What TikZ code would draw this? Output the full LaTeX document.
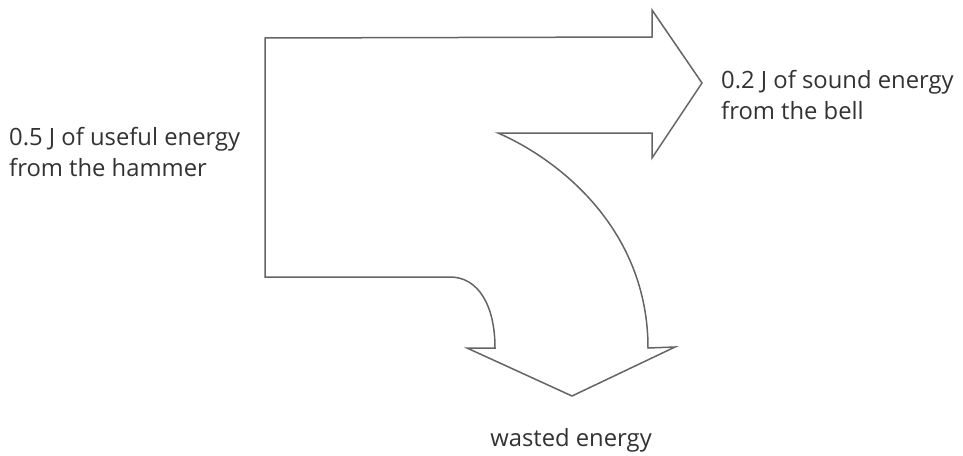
\documentclass[tikz,border=0pt]{standalone}
\usepackage{fontspec}
\setmainfont{Open Sans}
\definecolor{linegray}{RGB}{100,100,100}
\definecolor{textgray}{RGB}{50,50,50}
\begin{document}
\begin{tikzpicture}[x=1pt,y=-1pt,
  outline/.style={draw=linegray,line width=1.5pt,line join=miter},
  lbl/.style={text=textgray,font=\fontsize{23.8}{31}\selectfont,inner sep=0pt,align=left}]
\useasboundingbox (0,0) rectangle (963,455);
% main arrow shape
\draw[outline]
  (265,277) -- (265,38) -- (652,37) -- (652,10) -- (702,83) -- (652,158)
  -- (652,133) -- (498,133)
  .. controls (560,160) and (648,230) .. (648,348)
  -- (675,347) -- (572,396) -- (467,348) -- (495,348)
  .. controls (495,305) and (478,277) .. (450,277) -- cycle;
% labels
\node[lbl,anchor=west] (inlbl) at (9,152) {0.5 J of useful energy\\from the hammer};
\node[lbl,anchor=west] (soundlbl) at (721,95) {0.2 J of sound energy\\from the bell};
\node[lbl,anchor=center] (wastelbl) at (571,440) {wasted energy};
\end{tikzpicture}
\end{document}
